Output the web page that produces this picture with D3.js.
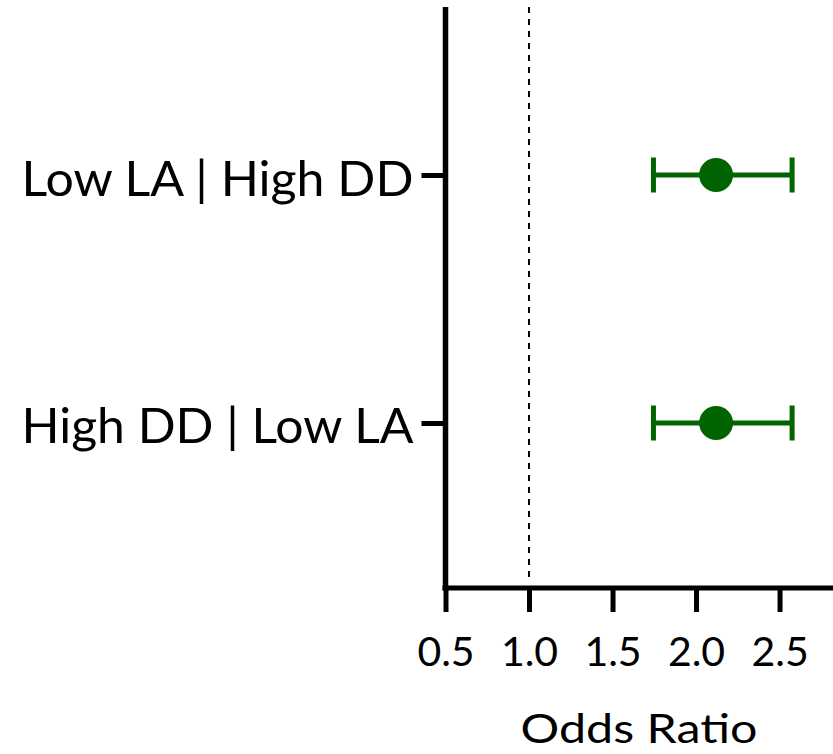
<!DOCTYPE html>
<html>
<head>
<meta charset="utf-8">
<script src="https://cdn.jsdelivr.net/npm/d3@7"></script>
<style>
  body { margin: 0; background: #fff; }
  svg { display: block; }
</style>
</head>
<body>
<div class="vis-div"></div>
<script>
const categories = ['Low LA | High DD', 'High DD | Low LA'];
const oddsRatio = [2.12, 2.12];
const ciLow = [1.745, 1.745];
const ciHigh = [2.575, 2.575];
const xTicks = [0.5, 1.0, 1.5, 2.0, 2.5];

const width = 833, height = 754;
const green = '#006400';
const font = 'Lato, "Open Sans", sans-serif';

const svg = d3.select('.vis-div').append('svg')
    .attr('width', width)
    .attr('height', height);

const x = d3.scaleLinear()
    .domain([0.5, 2.82])
    .range([445.5, 833]);

const y = d3.scalePoint()
    .domain(categories)
    .range([8, 590])
    .padding(0.6734);

// reference line at OR = 1
svg.append('line')
    .attr('x1', x(1)).attr('x2', x(1))
    .attr('y1', 7).attr('y2', 580)
    .attr('stroke', '#000')
    .attr('stroke-width', 2)
    .attr('stroke-dasharray', '6,6');

// x axis
const xAxis = svg.append('g')
    .attr('transform', 'translate(0,588)')
    .call(d3.axisBottom(x).tickValues(xTicks).tickSize(24).tickSizeOuter(0).tickFormat(d3.format('.1f')));
xAxis.select('.domain')
    .attr('stroke-width', 5)
    .attr('d', `M${x(0.5) - 3},0H${width}`);
xAxis.selectAll('.tick line').attr('stroke-width', 5);
xAxis.selectAll('.tick text')
    .attr('y', 78)
    .attr('dy', 0)
    .attr('font-family', font)
    .attr('font-size', 41)
    .attr('fill', '#000');

// y axis
const yAxis = svg.append('g')
    .attr('transform', `translate(${x(0.5)},0)`)
    .call(d3.axisLeft(y).tickSize(24).tickSizeOuter(0));
yAxis.select('.domain')
    .attr('stroke-width', 5.5)
    .attr('d', 'M0,7V590.5');
yAxis.selectAll('.tick line').attr('stroke-width', 5);
yAxis.selectAll('.tick text')
    .attr('x', -32)
    .attr('dy', 20)
    .attr('font-family', font)
    .attr('font-size', 49)
    .attr('fill', '#000')
    .attr('textLength', 392)
    .attr('lengthAdjust', 'spacingAndGlyphs');

// axis title
svg.append('text')
    .attr('x', 639)
    .attr('y', 743)
    .attr('text-anchor', 'middle')
    .attr('font-family', font)
    .attr('font-size', 40)
    .attr('textLength', 237)
    .attr('lengthAdjust', 'spacingAndGlyphs')
    .text('Odds Ratio');

// error bars
const rows = categories.map((c, i) => ({ c, or: oddsRatio[i], lo: ciLow[i], hi: ciHigh[i] }));
const g = svg.append('g').attr('stroke', green).attr('stroke-width', 5);

g.selectAll('.ci').data(rows).join('line')
    .attr('x1', d => x(d.lo)).attr('x2', d => x(d.hi))
    .attr('y1', d => y(d.c)).attr('y2', d => y(d.c));

g.selectAll('.capL').data(rows).join('line')
    .attr('x1', d => x(d.lo)).attr('x2', d => x(d.lo))
    .attr('y1', d => y(d.c) - 17.5).attr('y2', d => y(d.c) + 17.5);

g.selectAll('.capR').data(rows).join('line')
    .attr('x1', d => x(d.hi)).attr('x2', d => x(d.hi))
    .attr('y1', d => y(d.c) - 17.5).attr('y2', d => y(d.c) + 17.5);

svg.selectAll('.pt').data(rows).join('circle')
    .attr('cx', d => x(d.or))
    .attr('cy', d => y(d.c))
    .attr('r', 17)
    .attr('fill', green);
</script>
</body>
</html>
